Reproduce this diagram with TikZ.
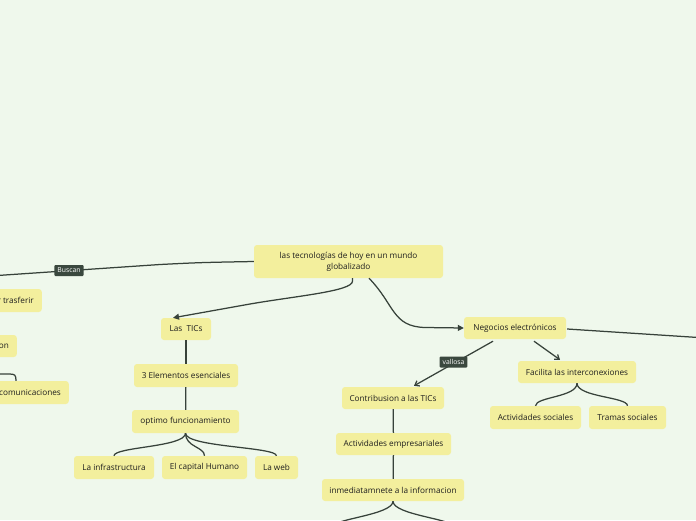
\documentclass[tikz,border=0pt]{standalone}
\usepackage{fontspec}
\setmainfont{Open Sans}
\usetikzlibrary{arrows.meta,calc}
\definecolor{bg}{RGB}{239,248,236}
\definecolor{nodefill}{RGB}{243,239,157}
\definecolor{linec}{RGB}{55,66,58}
\definecolor{labfill}{RGB}{58,72,62}
\definecolor{txt}{RGB}{30,30,30}
\begin{document}
\begin{tikzpicture}[x=1pt,y=-1pt,
  box/.style={fill=nodefill, rounded corners=3pt, inner sep=0pt, text=txt,
    font=\fontsize{8.2}{11}\selectfont},
  conn/.style={draw=linec, line width=1.25pt},
  arr/.style={conn, -{Triangle[length=6pt,width=6pt]}},
  barb/.style={conn, -{Straight Barb[length=4pt,width=6pt]}},
  lab/.style={fill=labfill, text=white, rounded corners=1pt, inner xsep=3pt,
    inner ysep=0pt, minimum height=11pt, font=\fontsize{6.8}{7}\selectfont}]
\useasboundingbox (0,0) rectangle (696,520);
\clip (0,0) rectangle (696,520);
\fill[bg] (0,0) rectangle (696,520);

% nodes
\node[box, minimum width=189pt, minimum height=33pt, align=center] (root) at (348.5,261.5)
  {las tecnologías de hoy en un mundo\\globalizado};
\node[box, anchor=east, minimum height=23pt, inner xsep=8pt] (tras) at (42,300.5) {r trasferir};
\node[box, anchor=east, minimum height=22pt, inner xsep=8pt] (on) at (17,346) {on};
\node[box, anchor=east, minimum height=23pt, inner xsep=8pt] (comm) at (69,392.5) {comunicaciones};

\node[box, minimum width=50pt, minimum height=22pt] (las) at (186,329) {Las~ TICs};
\node[box, minimum width=104pt, minimum height=23pt] (elem) at (186,375.5) {3 Elementos esenciales};
\node[box, minimum width=107pt, minimum height=23pt] (opt) at (185.5,421.5) {optimo funcionamiento};
\node[box, minimum width=80pt, minimum height=23pt] (inf) at (114,467.5) {La infrastructura};
\node[box, minimum width=85pt, minimum height=23pt] (cap) at (204.5,467.5) {El capital Humano};
\node[box, minimum width=43pt, minimum height=23pt] (web) at (276.5,467.5) {La web};

\node[box, minimum width=102pt, minimum height=22pt] (neg) at (515,328) {Negocios electrónicos};
\node[box, minimum width=118pt, minimum height=22pt] (fac) at (577,372) {Facilita las interconexiones};
\node[box, minimum width=91pt, minimum height=23pt] (acts) at (535.5,417.5) {Actividades sociales};
\node[box, minimum width=77pt, minimum height=23pt] (tram) at (627.5,417.5) {Tramas sociales};

\node[box, minimum width=102pt, minimum height=22pt] (con) at (393,398) {Contribusion a las TICs};
\node[box, minimum width=115pt, minimum height=22pt] (acte) at (393.5,444) {Actividades empresariales};
\node[box, minimum width=142pt, minimum height=22pt] (inm) at (393,490) {inmediatamnete a la informacion};

% free ends
\coordinate (leftend) at (-10,276);
\coordinate (rightend) at (706,338);
\coordinate (commpar) at (-10,374);
\coordinate (bl) at (330,528);
\coordinate (br) at (456,528);

% connectors
\draw[conn] (root.west) .. controls (200,262.5) .. (160,264.5) -- (leftend);
\node[lab] (buscan) at (69,270.5) {Buscan};

\draw[arr] ($(root.south)+(4,0)$) -- ++(0,3) .. controls +(0,10) and (296,296) .. (250,304)
  -- ($(las.north)+(-13,0)$);
\draw[arr] ($(root.south)+(20.5,0)$) .. controls (395,305) and (392,326.5) .. (425,327.5) -- (neg.west);
\draw[conn] ($(neg.east)+(1,1)$) -- (rightend);

\draw[conn] (commpar) -- (9,374) .. controls (15,374) and ($(comm.north east)+(-53,-6)$) .. ($(comm.north east)+(-53,0)$);

\draw[conn] (las) -- (elem);
\draw[conn] (elem) -- (opt);
\foreach \c in {inf,cap,web}
  \draw[conn] (opt.south) .. controls +(0,14) and +(0,-9) .. (\c.north);

\draw[barb] ($(neg.south)+(-22,2)$) -- ($(con.north)+(21,-1)$);
\node[lab] (vallosa) at (453.5,362) {vallosa};
\draw[barb] ($(neg.south)+(19,2)$) -- ($(fac.north)+(-17,-1)$);
\foreach \c in {acts,tram}
  \draw[conn] (fac.south) .. controls +(0,14) and +(0,-9) .. (\c.north);

\draw[conn] (con) -- (acte);
\draw[conn] (acte) -- (inm);
\foreach \c in {bl,br}
  \draw[conn] (inm.south) .. controls +(0,14) and +(0,-9) .. (\c);
\end{tikzpicture}
\end{document}
